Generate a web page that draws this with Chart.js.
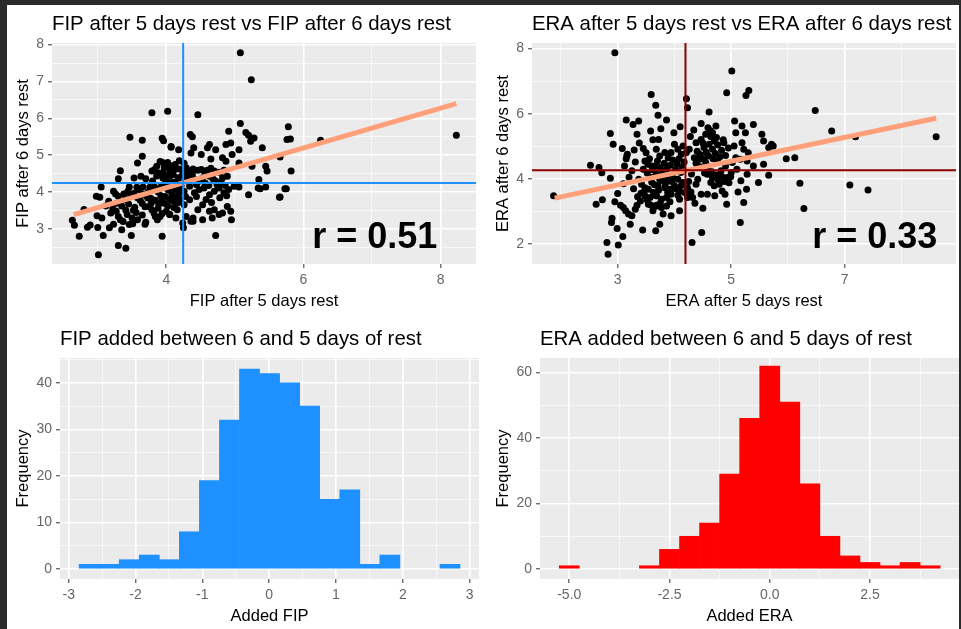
<!DOCTYPE html>
<html>
<head>
<meta charset="utf-8">
<title>FIP / ERA by days of rest</title>
<script src="https://cdn.jsdelivr.net/npm/chart.js@4.4.1/dist/chart.umd.min.js"></script>
<style>
  html, body { margin: 0; padding: 0; background: #fff; }
  #sheet { position: relative; width: 961px; height: 629px; background: #fff; overflow: hidden; }
  .panel { position: absolute; }
  .panel canvas { display: block; }
  .edge { position: absolute; background: #2b2b2b; }
</style>
</head>
<body>
<div id="sheet">
  <div class="panel" style="left:0;top:0"><canvas id="fipScatter" width="480" height="314"></canvas></div>
  <div class="panel" style="left:480px;top:0"><canvas id="eraScatter" width="480" height="314"></canvas></div>
  <div class="panel" style="left:0;top:315px"><canvas id="fipHist" width="480" height="314"></canvas></div>
  <div class="panel" style="left:480px;top:315px"><canvas id="eraHist" width="480" height="314"></canvas></div>
  <div class="edge" style="left:0;top:0;width:961px;height:5px"></div>
  <div class="edge" style="left:0;top:0;width:7px;height:629px"></div>
  <div class="edge" style="left:959px;top:0;width:2px;height:629px"></div>
</div>
<script>
// pitchers: [after 5 days rest, after 6 days rest]
const fipPairs = [
  [3.79,6.15],[4.02,6.19],[3.47,5.49],[3.65,5.41],[3.94,5.46],[3.96,5.39],[4.07,5.22],[3.65,4.97],[3.58,4.79],[3.91,4.83],
  [3.94,4.81],[3.33,4.58],[3.30,4.36],[3.53,4.38],[3.63,4.43],[3.70,4.36],[3.79,4.57],[3.83,4.61],[3.97,4.66],[4.05,4.72],
  [3.05,4.14],[2.98,3.89],[3.03,3.86],[3.23,4.02],[3.26,3.95],[3.46,4.14],[3.57,4.13],[3.66,4.14],[3.76,4.13],[3.48,3.91],
  [3.53,3.97],[3.60,4.07],[3.83,4.14],[4.01,4.10],[2.80,3.53],[2.63,3.24],[2.66,3.10],[2.89,3.11],[2.85,3.05],[2.99,3.36],
  [3.06,3.30],[3.00,3.04],[3.19,3.43],[3.17,3.03],[3.23,3.13],[3.30,3.34],[3.33,3.25],[3.41,3.51],[3.43,3.39],[3.37,3.20],
  [3.35,2.98],[3.54,3.59],[3.65,3.69],[3.69,3.60],[3.65,3.38],[3.69,3.13],[3.75,3.61],[3.79,3.52],[3.82,3.43],[3.88,3.56],
  [3.93,3.74],[3.98,3.88],[4.05,3.80],[4.00,3.48],[4.05,3.39],[3.84,3.34],[3.91,3.34],[3.94,3.42],[2.73,2.80],[3.08,2.82],
  [3.49,2.82],[3.94,2.80],[3.30,2.55],[3.41,2.48],[3.01,2.30],[4.10,4.27],[4.05,4.48],[4.07,4.58],[3.78,3.83],[3.73,3.84],
  [3.51,3.14],[3.70,3.18],[3.87,3.25],[3.52,3.51],[3.46,3.12],[3.30,3.89],
  [4.46,6.10],[5.08,5.86],[4.91,5.65],[4.35,5.56],[4.38,5.50],[5.16,5.62],[5.20,5.54],[5.23,5.38],[5.28,5.47],[4.63,5.29],
  [4.60,5.20],[4.94,5.33],[4.87,5.29],[4.40,5.20],[4.36,5.06],[4.07,5.24],[4.18,5.15],[4.72,5.15],[5.06,5.15],[5.40,5.20],
  [4.51,5.02],[4.65,4.90],[4.82,4.93],[4.87,4.84],[4.96,5.02],[5.06,4.79],[5.25,4.70],[5.45,4.70],[5.47,4.57],
  [4.05,4.63],[4.12,4.61],[4.19,4.63],[4.24,4.59],[4.29,4.66],[4.34,4.57],[4.39,4.63],[4.46,4.59],[4.51,4.61],[4.55,4.57],
  [4.60,4.59],[4.65,4.65],[4.70,4.57],[4.77,4.54],[4.84,4.59],
  [4.05,4.43],[4.10,4.48],[4.17,4.39],[4.31,4.43],[4.41,4.34],[4.53,4.39],[4.63,4.43],[4.72,4.30],[4.82,4.39],[4.89,4.43],
  [4.99,4.16],[5.06,4.14],[5.20,3.93],[5.35,4.34],[5.34,4.11],[5.37,4.09],[5.45,4.14],[5.66,3.87],[5.73,4.09],
  [4.05,4.16],[4.12,4.07],[4.19,4.11],[4.26,4.02],[4.34,4.16],[4.41,3.98],[4.48,4.07],[4.55,4.11],[4.63,3.93],[4.70,4.02],
  [4.77,4.11],[4.84,3.98],[4.91,4.07],
  [4.10,3.75],[4.17,3.71],[4.26,3.66],[4.34,3.79],[4.46,3.52],[4.53,3.66],[4.63,3.48],[4.70,3.52],[4.77,3.39],[4.89,3.61],
  [4.94,3.48],[4.05,3.39],[4.14,3.30],[4.29,3.34],[4.39,3.21],[4.53,3.25],[4.67,3.30],[4.82,3.43],
  [4.24,3.16],[4.25,3.03],[4.36,3.21],[4.39,3.30],[4.95,3.25],[4.72,2.82],
  [5.78,5.77],[5.76,5.43],[5.81,5.44],[6.25,5.41],[5.82,4.57],[5.75,4.09],[8.23,5.54],[5.08,7.78],[5.24,7.05],[5.65,3.86],
  [5.66,4.95],
  [3.86,4.70],[3.90,4.52],[3.95,4.38],[3.99,4.25],[4.03,4.05],[4.08,3.92],[4.13,3.85],[4.18,3.96],[4.22,4.20],[4.27,4.31],
  [3.88,4.00],[3.92,3.90],[3.97,3.70],[4.02,3.62],[4.11,3.58],[4.16,3.52],[4.21,3.80],[4.28,3.88],[3.84,3.78],[3.89,3.68],
  [3.93,4.16],[4.00,4.34],[4.06,4.25],[4.12,4.18],[4.17,4.30],[4.23,4.45],[4.28,4.52],[3.86,4.44],[3.96,4.52],[4.02,4.80],
  [4.13,4.75],[4.19,4.85],[4.26,4.78],[3.80,4.30],[3.74,4.00],[3.71,3.90],[3.62,3.78],[3.58,3.85],[3.66,3.95],[3.78,3.70],
  [4.33,4.26],[4.38,4.48],[4.44,4.20],[4.50,4.30],[4.57,4.24],[4.62,4.18],[4.68,4.36],[4.74,4.20],[4.80,4.26],[4.86,4.18],
  [4.44,3.88],[4.58,3.80],[4.66,3.72],[4.78,3.85],[4.88,3.90],
  [3.12,3.62],[3.16,3.75],[3.22,3.55],[3.28,3.70],[3.35,3.62],[3.40,3.80],[3.45,3.68],[3.38,3.95],[3.27,3.48],[3.50,3.30],
  [3.56,3.45],[3.44,4.02],[3.58,3.25]
];

const eraPairs = [
  [1.87,3.48],[2.52,4.42],[2.67,4.35],[2.72,4.19],[2.87,4.02],[2.62,3.22],[2.73,3.36],[2.87,5.39],[2.92,5.06],[3.15,5.81],
  [3.27,5.67],[3.37,5.78],[3.34,5.37],[3.08,4.93],[3.17,4.76],[3.15,4.62],[3.29,4.89],[3.31,4.52],[3.45,4.93],[3.58,5.47],
  [3.67,6.26],[3.71,5.95],[3.48,4.55],[3.53,4.45],[3.60,4.40],
  [3.37,3.99],[3.42,3.84],[3.48,3.73],[3.54,3.68],[3.63,3.58],[3.68,3.48],[3.41,3.56],[3.48,3.48],[3.57,3.43],
  [3.05,3.19],[3.10,3.12],[3.14,3.02],[3.19,2.92],[3.25,2.87],[3.31,3.07],[3.34,3.19],
  [2.90,2.79],[2.89,2.66],[2.99,2.48],[3.09,2.23],[2.81,2.05],[3.01,1.97],[2.83,1.69],[3.22,2.61],[3.44,2.43],[3.67,2.41],
  [3.54,3.22],[3.63,3.12],[3.68,3.19],
  [4.23,6.18],[3.86,5.81],
  [3.76,5.54],[3.72,5.21],[3.99,5.42],[4.61,6.05],[4.47,5.70],[4.59,5.57],[4.73,5.62],[4.34,5.50],[4.55,5.37],[4.67,5.42],
  [4.74,5.27],[5.06,5.78],[5.19,5.62],[5.25,5.42],[5.08,5.42],[5.39,5.67],[5.54,5.37],[5.57,5.16],[5.71,5.06],[5.66,4.96],
  [4.87,5.11],[5.05,5.01],[5.19,5.11],[5.22,4.91],
  [4.38,5.11],[4.47,5.21],[4.52,4.96],[4.61,5.06],[4.67,4.91],[4.70,5.16],
  [4.00,5.06],[4.06,4.91],[4.15,5.01],[4.21,4.81],[4.26,4.91],[4.12,4.76],[3.94,4.81],[3.89,4.65],[3.83,4.81],[3.74,4.70],
  [3.68,4.91],
  [4.35,4.65],[4.44,4.60],[4.55,4.50],[4.76,4.55],[4.90,4.40],[5.02,4.50],[5.08,4.65],[5.16,4.60],[5.28,4.55],[5.39,4.40],
  [5.57,4.45],[5.66,4.11],
  [4.58,4.14],[4.67,4.04],[4.76,3.99],[4.84,4.07],[4.93,4.04],[4.99,4.07],[4.64,3.89],[4.70,3.79],[4.79,3.84],
  [5.17,3.94],[5.28,4.14],[5.27,3.68],[5.48,3.89],[5.16,2.66],[5.22,3.28],[4.92,3.22],[4.89,3.53],[4.84,3.63],
  [4.41,3.99],[4.38,3.84],[4.23,3.73],[4.29,3.60],[4.47,3.53],[4.58,3.53],[4.71,3.48],
  [3.68,4.14],[3.74,3.99],[3.80,4.09],[3.89,3.94],[3.97,4.04],[4.06,3.99],[4.15,3.89],[3.71,3.79],[3.83,3.73],[3.92,3.68],
  [4.00,3.79],[4.09,3.63],[4.18,3.58],[3.68,3.48],[3.77,3.38],[3.86,3.43],[3.94,3.53],[4.09,3.38],[4.23,3.43],[4.32,3.43],
  [3.68,3.17],[3.77,3.12],[3.86,3.17],[3.94,2.87],[4.09,3.02],[3.74,2.61],[4.48,2.36],[4.31,2.05],
  [5.97,4.62],[6.12,4.65],[6.21,3.87],[6.28,3.09],[6.48,6.10],[6.77,5.47],[7.19,5.29],[7.09,3.81],[7.41,3.66],[8.61,5.29],
  [5.74,5.01],[2.95,7.87],[5.01,7.31],[4.92,6.64],[5.26,6.56],[5.31,6.71],[4.21,6.46],[3.59,6.59],[3.16,4.70],
  [3.45,4.30],[3.52,4.18],[3.58,4.05],[3.62,4.28],[3.66,4.40],[3.70,4.55],[3.75,4.35],[3.79,4.22],[3.82,4.48],[3.86,4.30],
  [3.90,4.12],[3.93,4.42],[3.97,4.58],[4.02,4.28],[4.05,4.45],[4.08,4.62],[4.11,4.20],[4.14,4.35],[4.17,4.52],[3.60,3.90],
  [3.65,3.82],[3.72,3.65],[3.78,3.95],[3.84,3.85],[3.88,3.58],[3.95,3.92],[4.02,3.70],[4.06,3.50],[4.12,3.80],[3.46,3.60],
  [3.52,3.35],[3.58,3.20],[3.40,3.32],[3.35,3.45],[3.62,3.02],[3.75,3.25],[3.80,2.92],[3.92,3.30],[3.56,4.62],[3.50,4.80],
  [4.40,4.85],[4.45,4.75],[4.50,5.10],[4.56,4.82],[4.60,4.70],[4.64,5.30],[4.68,4.62],[4.72,4.78],[4.76,5.05],[4.80,4.68],
  [4.83,4.88],[4.86,5.20],[4.90,4.72],[4.95,4.95],[4.63,5.48],[4.52,4.62],[4.44,4.38],[4.58,4.32],[4.66,4.22],[4.74,4.12],
  [4.82,4.25],[4.88,3.92],[4.96,3.88],[5.00,4.20],[4.53,4.18],
  [3.25,4.25],[3.20,4.05],[3.28,3.70],[3.10,3.85],[3.00,3.55],[2.95,3.30],[3.12,4.40],[3.38,5.10],[3.62,5.20],[4.28,5.30],
  [4.10,5.60],[4.38,4.48],[4.30,4.15],[4.25,3.92],[4.36,3.25],[4.50,3.10],[5.10,4.30],[5.12,3.60],[5.30,4.80]
];

// lm fit end points and sample means
const fipFitX = [2.65, 8.23];
const fipFitY = [3.39, 6.40];
const fipMean = { x: 4.246, y: 4.25 };
const eraFitX = [1.89, 8.61];
const eraFitY = [3.41, 5.86];
const eraMean = { x: 4.194, y: 4.265 };

const fipR = '0.51';
const eraR = '0.33';

// histogram bins (centres) and counts
const fipBins   = [-2.694, -2.394, -2.094, -1.794, -1.494, -1.194, -0.894, -0.594, -0.294, 0.006,
                   0.306, 0.606, 0.906, 1.206, 1.506, 1.806, 2.106, 2.406, 2.706];
const fipCounts = [1, 1, 2, 3, 2, 8, 19, 32, 43, 42, 40, 35, 15, 17, 1, 3, 0, 0, 1];
const eraBins   = [-5.0, -4.5, -4.0, -3.5, -3.0, -2.5, -2.0, -1.5, -1.0, -0.5,
                   0.0, 0.5, 1.0, 1.5, 2.0, 2.5, 3.0, 3.5, 4.0];
const eraCounts = [1, 0, 0, 0, 1, 6, 10, 14, 29, 46, 62, 51, 26, 10, 4, 2, 1, 2, 1];

const FONT = "'Liberation Sans', Arial, Helvetica, sans-serif";

function onStep(v, step, base) {
  const q = (v - base) / step;
  return Math.abs(q - Math.round(q)) < 1e-6;
}

// ggplot-ish axis: white major/minor grid, tick marks only on labelled values
function ggAxis(o) {
  const base = o.base || 0;
  const major = v => onStep(v, o.major, base);
  return {
    type: 'linear', min: o.min, max: o.max, offset: false,
    border: { display: false },
    grid: {
      offset: false,
      color: c => major(c.tick.value) ? '#ffffff' : 'rgba(255,255,255,0.8)',
      lineWidth: c => major(c.tick.value) ? 1.6 : 0.8,
      tickColor: c => major(c.tick.value) ? '#333333' : 'rgba(0,0,0,0)',
      tickLength: 4, tickWidth: 1, drawTicks: true
    },
    afterBuildTicks: s => {
      const ticks = [];
      for (let v = Math.ceil(o.min / o.step) * o.step; v <= o.max + 1e-9; v += o.step) {
        ticks.push({ value: Math.round(v * 1000) / 1000 });
      }
      s.ticks = ticks;
    },
    ticks: {
      autoSkip: false, maxRotation: 0, minRotation: 0,
      color: '#666666', font: { family: FONT, size: 14 }, padding: o.horizontal ? 3.6 : 4,
      callback: v => major(v) ? o.fmt(v) : ''
    },
    title: {
      display: true, text: o.title, color: '#000',
      font: { family: FONT, size: 16.5 },
      padding: o.horizontal ? { top: 0, bottom: 3.1 } : { top: 14, bottom: 0 }
    },
    afterFit: s => { if (o.horizontal) s.height = o.size; else s.width = o.size; }
  };
}

const panelBg = {
  id: 'panelBg',
  beforeDraw(chart) {
    const { ctx, chartArea: a } = chart;
    ctx.save();
    ctx.fillStyle = '#ebebeb';
    ctx.fillRect(a.left, a.top, a.right - a.left, a.bottom - a.top);
    ctx.restore();
  }
};

function meanLines(mean, color, width) {
  return {
    id: 'meanLines',
    afterDatasetsDraw(chart) {
      const { ctx, chartArea: a, scales } = chart;
      const px = scales.x.getPixelForValue(mean.x);
      const py = scales.y.getPixelForValue(mean.y);
      ctx.save();
      ctx.strokeStyle = color;
      ctx.lineWidth = width;
      ctx.beginPath();
      ctx.moveTo(px, a.top); ctx.lineTo(px, a.bottom);
      ctx.moveTo(a.left, py); ctx.lineTo(a.right, py);
      ctx.stroke();
      ctx.restore();
    }
  };
}

function rLabel(text, x, y) {
  return {
    id: 'rLabel',
    afterDraw(chart) {
      const { ctx, scales } = chart;
      ctx.save();
      ctx.font = 'bold 36px ' + FONT;
      ctx.fillStyle = '#000';
      ctx.textAlign = 'center';
      ctx.textBaseline = 'middle';
      ctx.fillText(text, scales.x.getPixelForValue(x), scales.y.getPixelForValue(y));
      ctx.restore();
    }
  };
}

function baseOptions(titleText, xAxis, yAxis) {
  return {
    responsive: false,
    animation: false,
    events: [],
    layout: { padding: { left: 0, right: 1, top: 0, bottom: 0 } },
    plugins: {
      legend: { display: false },
      tooltip: { enabled: false },
      title: {
        display: true, text: titleText, align: 'start', fullSize: false,
        color: '#000', font: { family: FONT, size: 20.4, weight: 'normal' },
        padding: { top: 12.4, bottom: 6.1 }
      }
    },
    scales: { x: ggAxis(xAxis), y: ggAxis(yAxis) }
  };
}

function scatterPanel(canvasId, titleText, pairs, fitX, fitY, mean, meanColor, meanWidth, label, xAxis, yAxis) {
  new Chart(document.getElementById(canvasId), {
    type: 'scatter',
    data: {
      datasets: [
        {
          type: 'line', order: 0,
          data: fitX.map((x, i) => ({ x: x, y: fitY[i] })),
          borderColor: '#ffa07a', borderWidth: 5, borderCapStyle: 'butt',
          pointRadius: 0, fill: false
        },
        {
          order: 1,
          data: pairs.map(p => ({ x: p[0], y: p[1] })),
          backgroundColor: '#000', pointRadius: 3.5, pointBorderWidth: 0
        }
      ]
    },
    options: baseOptions(titleText, xAxis, yAxis),
    plugins: [panelBg, meanLines(mean, meanColor, meanWidth), rLabel(label.text, label.x, label.y)]
  });
}

function histPanel(canvasId, titleText, bins, counts, color, xAxis, yAxis) {
  new Chart(document.getElementById(canvasId), {
    type: 'bar',
    data: {
      datasets: [{
        // empty bins are left out of the drawing but keep their slot on the axis
        data: bins.map((x, i) => ({ x: x, y: counts[i] > 0 ? counts[i] : null })),
        backgroundColor: color, borderWidth: 0,
        barPercentage: 1, categoryPercentage: 1
      }]
    },
    options: baseOptions(titleText, xAxis, yAxis),
    plugins: [panelBg]
  });
}

const asInt = v => String(Math.round(v));

scatterPanel('fipScatter', 'FIP after 5 days rest vs FIP after 6 days rest', fipPairs, fipFitX, fipFitY,
  fipMean, '#1e90ff', 2, { text: 'r = ' + fipR, x: 7.04, y: 2.74 },
  { min: 2.333, max: 8.517, step: 1, major: 2, fmt: asInt, title: 'FIP after 5 days rest', horizontal: true, size: 50 },
  { min: 2.05, max: 8.045, step: 0.5, major: 1, fmt: asInt, title: 'FIP after 6 days rest', size: 52 });

scatterPanel('eraScatter', 'ERA after 5 days rest vs ERA after 6 days rest', eraPairs, eraFitX, eraFitY,
  eraMean, '#8b0000', 2, { text: 'r = ' + eraR, x: 7.53, y: 2.18 },
  { min: 1.49, max: 8.96, step: 1, major: 2, base: 1, fmt: asInt, title: 'ERA after 5 days rest', horizontal: true, size: 50 },
  { min: 1.39, max: 8.17, step: 1, major: 2, fmt: asInt, title: 'ERA after 6 days rest', size: 52 });

histPanel('fipHist', 'FIP added between 6 and 5 days of rest', fipBins, fipCounts, '#1e90ff',
  { min: -3.13, max: 3.14, step: 0.5, major: 1, fmt: asInt, title: 'Added FIP', horizontal: true, size: 50 },
  { min: -2.15, max: 45.36, step: 5, major: 10, fmt: asInt, title: 'Frequency', size: 60 });

histPanel('eraHist', 'ERA added between 6 and 5 days of rest', eraBins, eraCounts, '#ff0000',
  { min: -5.73, max: 4.72, step: 1.25, major: 2.5, fmt: v => v.toFixed(1), title: 'Added ERA', horizontal: true, size: 50 },
  { min: -3.05, max: 64.47, step: 10, major: 20, fmt: asInt, title: 'Frequency', size: 60 });
</script>
</body>
</html>
